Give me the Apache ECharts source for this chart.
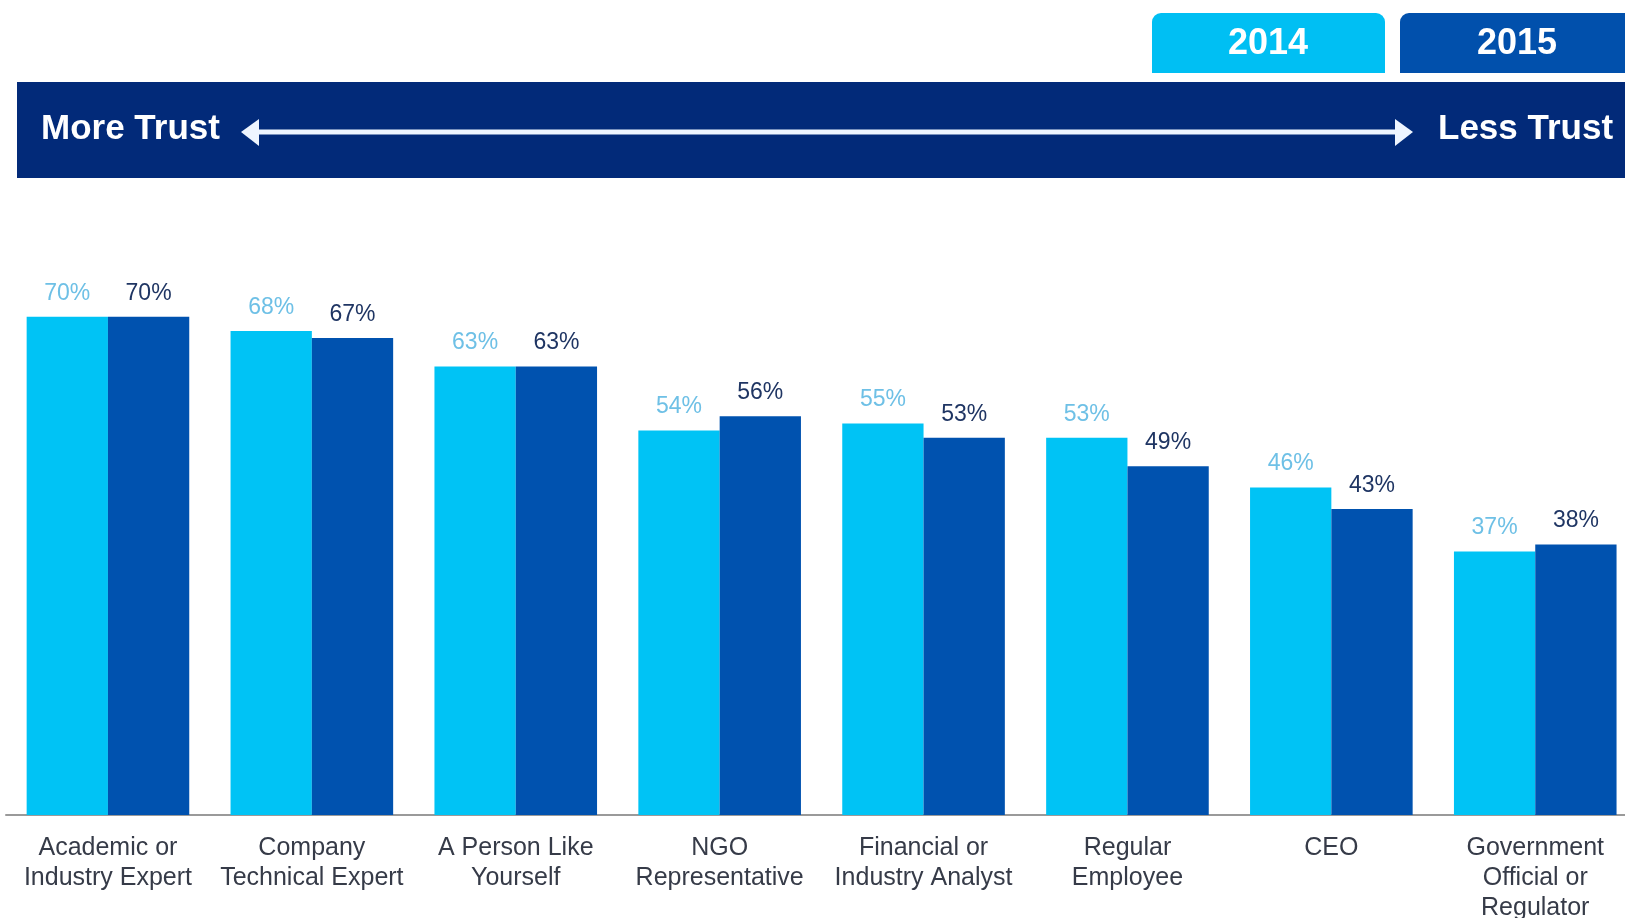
<!DOCTYPE html>
<html>
<head>
<meta charset="utf-8">
<script src="https://cdn.jsdelivr.net/npm/echarts@6/dist/echarts.min.js"></script>
<style>
html,body{margin:0;padding:0;background:#fff;}
#chart{width:1625px;height:918px;}
</style>
</head>
<body>
<div id="chart"></div>
<script>
var categories = [
  'Academic or\nIndustry Expert',
  'Company\nTechnical Expert',
  'A Person Like\nYourself',
  'NGO\nRepresentative',
  'Financial or\nIndustry Analyst',
  'Regular\nEmployee',
  'CEO',
  'Government\nOfficial or\nRegulator'
];
var values2014 = [70, 68, 63, 54, 55, 53, 46, 37];
var values2015 = [70, 67, 63, 56, 53, 49, 43, 38];
var seriesNames = ['2014', '2015'];
var headerLeft = 'More Trust';
var headerRight = 'Less Trust';

var FONT = '"Liberation Sans", Arial, Helvetica, sans-serif';
var LIGHT = '#00C3F5';
var DARK = '#0052AF';
var NAVY = '#022A79';

var chart = echarts.init(document.getElementById('chart'), null, {renderer: 'canvas'});

function labelCfg(color) {
  return {
    show: true,
    position: 'top',
    distance: 12,
    formatter: '{c}%',
    color: color,
    fontSize: 23,
    fontFamily: FONT
  };
}

var option = {
  backgroundColor: '#ffffff',
  animation: false,
  grid: {left: 6, width: 1631.2, top: 103.1, height: 711.9, containLabel: false, outerBoundsMode: 'none'},
  xAxis: {
    type: 'category',
    data: categories,
    axisLine: {show: true, lineStyle: {color: '#9a9a9a', width: 2}},
    axisTick: {show: false},
    axisLabel: {
      interval: 0,
      margin: 18,
      color: '#363b48',
      fontSize: 25,
      lineHeight: 30,
      fontFamily: FONT,
      hideOverlap: false
    }
  },
  yAxis: {
    type: 'value',
    min: 0,
    max: 100,
    show: false,
    splitLine: {show: false}
  },
  series: [
    {
      name: seriesNames[0],
      type: 'bar',
      data: values2014,
      barWidth: 81.3,
      barGap: '0%',
      itemStyle: {color: LIGHT},
      label: labelCfg('#6ec0e6')
    },
    {
      name: seriesNames[1],
      type: 'bar',
      data: values2015,
      barWidth: 81.3,
      barGap: '0%',
      itemStyle: {color: DARK},
      label: labelCfg('#1f3563')
    }
  ],
  graphic: [
    {type: 'rect', shape: {x: 17, y: 82, width: 1620, height: 96}, style: {fill: NAVY}},
    {type: 'rect', shape: {x: 1152, y: 13, width: 233, height: 60, r: [9, 9, 0, 0]}, style: {fill: '#00BFF3'}},
    {type: 'rect', shape: {x: 1400, y: 13, width: 240, height: 60, r: [9, 9, 0, 0]}, style: {fill: '#0150AC'}},
    {type: 'text', style: {x: 1268, y: 44, text: seriesNames[0], fill: '#ffffff', font: 'bold 36px ' + FONT, textAlign: 'center', textVerticalAlign: 'middle'}},
    {type: 'text', style: {x: 1517, y: 44, text: seriesNames[1], fill: '#ffffff', font: 'bold 36px ' + FONT, textAlign: 'center', textVerticalAlign: 'middle'}},
    {type: 'text', style: {x: 41, y: 129, text: headerLeft, fill: '#ffffff', font: 'bold 35px ' + FONT, textAlign: 'left', textVerticalAlign: 'middle'}},
    {type: 'text', style: {x: 1438, y: 129, text: headerRight, fill: '#ffffff', font: 'bold 35px ' + FONT, textAlign: 'left', textVerticalAlign: 'middle'}},
    {type: 'line', shape: {x1: 255, y1: 132, x2: 1399, y2: 132}, style: {stroke: '#eef5ff', lineWidth: 5}},
    {type: 'polygon', shape: {points: [[241, 132], [259, 119], [259, 146]]}, style: {fill: '#eef5ff'}},
    {type: 'polygon', shape: {points: [[1413, 132], [1395, 119], [1395, 146]]}, style: {fill: '#eef5ff'}}
  ]
};
chart.setOption(option);
</script>
</body>
</html>
